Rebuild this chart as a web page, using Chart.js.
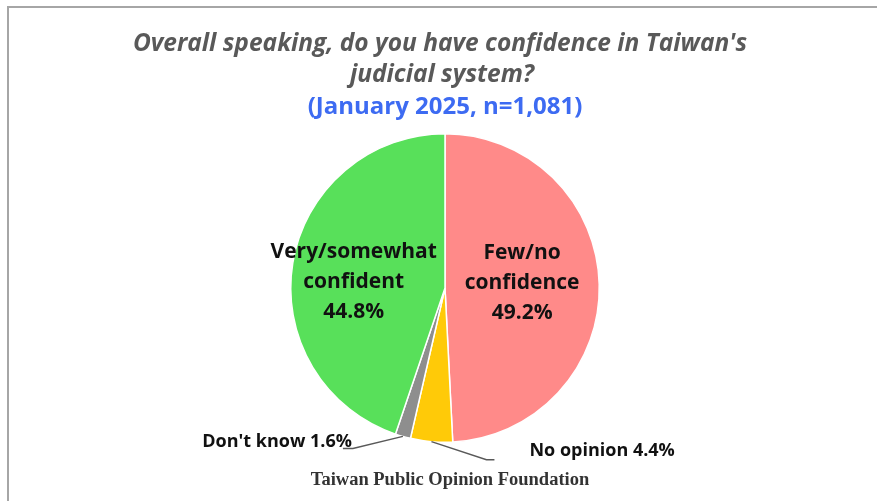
<!DOCTYPE html>
<html>
<head>
<meta charset="utf-8">
<script src="https://cdn.jsdelivr.net/npm/chart.js@4.4.1/dist/chart.umd.min.js"></script>
<style>
  html, body { margin: 0; padding: 0; background: #fff; }
  #wrap { position: relative; width: 877px; height: 501px; }
</style>
</head>
<body>
<div id="wrap"><canvas id="pie-chart" width="877" height="501"></canvas></div>
<script>
// data, clockwise from 12 o'clock
var categories = ["Few/no confidence", "No opinion", "Don't know", "Very/somewhat confident"];
var values = [49.2, 4.4, 1.6, 44.8];
var sliceColors = ["#FF8A89", "#FFCA08", "#8E8E8E", "#58E05A"];

var titleLines = ["Overall speaking, do you have confidence in Taiwan's", "judicial system?"];
var subtitle = "(January 2025, n=1,081)";
var footer = "Taiwan Public Opinion Foundation";

// inside labels (big slices) and outside labels (small slices)
var insideLabels = {
  0: ["Few/no", "confidence"],
  3: ["Very/somewhat", "confident"]
};
var outsideLabels = {
  1: "No opinion",
  2: "Don't know"
};

function pct(v) { return v.toFixed(1) + "%"; }

var textPlugin = {
  id: "pieText",
  beforeDraw: function(chart) {
    var ctx = chart.ctx;
    ctx.save();
    ctx.strokeStyle = "#A6A6A6";
    ctx.lineWidth = 2;
    ctx.beginPath();
    ctx.moveTo(8, chart.height);
    ctx.lineTo(8, 7);
    ctx.lineTo(chart.width, 7);
    ctx.stroke();
    ctx.restore();
  },
  afterDraw: function(chart) {
    var ctx = chart.ctx;
    var meta = chart.getDatasetMeta(0);
    ctx.save();
    ctx.textAlign = "center";
    ctx.textBaseline = "middle";

    // titles
    ctx.fillStyle = "#595959";
    ctx.font = "italic bold 24.5px 'Open Sans'";
    ctx.fillText(titleLines[0], 440, 44);
    ctx.fillText(titleLines[1], 442, 75);
    ctx.fillStyle = "#3D6BF2";
    ctx.font = "bold 24px 'Open Sans'";
    ctx.fillText(subtitle, 445, 107);

    // footer
    ctx.fillStyle = "#333333";
    ctx.font = "bold 18.5px 'Liberation Serif'";
    ctx.fillText(footer, 450, 480);

    // inside labels
    var insideDist = { 0: 0.5, 3: 0.6 };
    var insideShift = { 0: 0, 3: 12 };
    ctx.fillStyle = "#111111";
    ctx.font = "bold 21px 'Open Sans'";
    Object.keys(insideLabels).forEach(function(k) {
      var i = +k;
      var arc = meta.data[i];
      var mid = (arc.startAngle + arc.endAngle) / 2;
      var r = arc.outerRadius * insideDist[i];
      var cx = arc.x + Math.cos(mid) * r;
      var cy = arc.y + Math.sin(mid) * r + insideShift[i];
      var lines = insideLabels[i].concat([pct(values[i])]);
      var lh = 30;
      var top = cy - lh * (lines.length - 1) / 2 - 3;
      lines.forEach(function(t, j) { ctx.fillText(t, cx, top + j * lh); });
    });

    // outside labels with leader lines
    var leader = {
      1: { elbow: [55, 18], end: [8, 0], text: [35, -9], align: "left" },
      2: { elbow: [-50, 12], end: [-10, 0], text: [9, -7], align: "right" }
    };
    ctx.font = "bold 18px 'Open Sans'";
    Object.keys(outsideLabels).forEach(function(k) {
      var i = +k;
      var arc = meta.data[i];
      var mid = (arc.startAngle + arc.endAngle) / 2;
      var r = arc.outerRadius * 1.0;
      var x0 = arc.x + Math.cos(mid) * r;
      var y0 = arc.y + Math.sin(mid) * r;
      var L = leader[i];
      var x1 = x0 + L.elbow[0], y1 = y0 + L.elbow[1];
      var x2 = x1 + L.end[0], y2 = y1 + L.end[1];
      ctx.strokeStyle = "#595959";
      ctx.lineWidth = 1.5;
      ctx.beginPath();
      ctx.moveTo(x0, y0);
      ctx.lineTo(x1, y1);
      ctx.lineTo(x2, y2);
      ctx.stroke();
      ctx.textAlign = L.align;
      ctx.fillStyle = "#111111";
      ctx.fillText(outsideLabels[i] + " " + pct(values[i]), x2 + L.text[0], y2 + L.text[1]);
    });
    ctx.restore();
  }
};

var config = {
  type: "pie",
  data: {
    labels: categories,
    datasets: [
      {
        data: values,
        backgroundColor: sliceColors,
        borderColor: "#ffffff",
        borderWidth: 1.5,
      },
    ],
  },
  options: {
    responsive: false,
    animation: false,
    layout: {
      padding: { top: 133, bottom: 58, left: 13, right: 0 },
    },
    plugins: {
      legend: { display: false },
      tooltip: { enabled: false },
      title: { display: false },
    },
  },
  plugins: [textPlugin],
};

var ctx = document.getElementById("pie-chart").getContext("2d");
window.pieChartInstance = new Chart(ctx, config);
</script>
</body>
</html>
